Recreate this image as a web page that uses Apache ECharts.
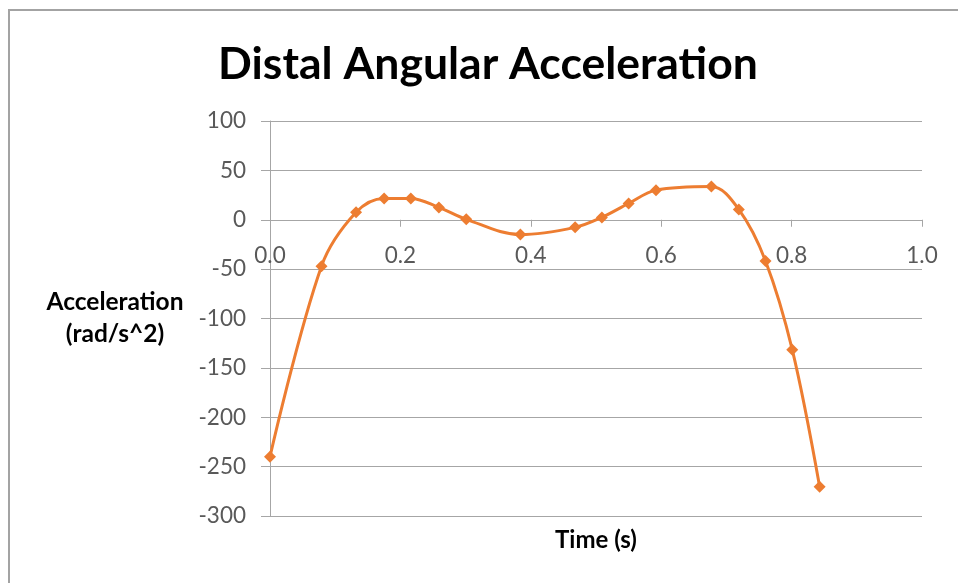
<!DOCTYPE html>
<html>
<head>
<meta charset="utf-8">
<script src="https://cdn.jsdelivr.net/npm/echarts@6/dist/echarts.min.js"></script>
<style>
html,body{margin:0;padding:0;background:#fff;}
#main{width:958px;height:583px;}
</style>
</head>
<body>
<div id="main"></div>
<script>
var titleText = "Distal Angular Acceleration";
var xAxisTitle = "Time (s)";
var yAxisTitle = "Acceleration\n(rad/s^2)";
var times = [0.000, 0.079, 0.132, 0.175, 0.216, 0.259, 0.301, 0.384, 0.468, 0.509, 0.550, 0.592, 0.677, 0.719, 0.760, 0.801, 0.843];
var accel = [-240, -47, 7.5, 21.6, 21.6, 12.5, 0.4, -15, -7.7, 2.4, 16.5, 30, 33.7, 10.5, -41.7, -131.6, -270.3];
var xMin = 0, xMax = 1, xStep = 0.2;
var yMin = -300, yMax = 100, yStep = 50;

var points = times.map(function (t, i) { return [t, accel[i]]; });
var FONT = "Lato";
var gridTop = 121, gridBottom = 67, H = 583;
var plotH = H - gridTop - gridBottom;
// x axis crosses the y axis at value 0
var zeroOffset = -plotH * (0 - yMin) / (yMax - yMin);

var chart = echarts.init(document.getElementById('main'), null, {renderer: 'canvas'});
chart.setOption({
  backgroundColor: '#ffffff',
  animation: false,
  title: {
    text: titleText,
    left: 483,
    textAlign: 'center',
    top: 37,
    textStyle: {fontFamily: FONT, fontWeight: 'bold', fontSize: 44.5, color: '#000000'}
  },
  graphic: [{
    type: 'rect',
    shape: {x: 9, y: 10, width: 1000, height: 1000},
    style: {fill: 'none', stroke: '#a3a3a3', lineWidth: 2},
    silent: true
  }],
  grid: {left: 270, right: 36, top: gridTop, bottom: gridBottom, containLabel: false, outerBoundsMode: 'none'},
  xAxis: {
    type: 'value',
    min: xMin, max: xMax, interval: xStep,
    offset: zeroOffset,
    name: xAxisTitle,
    nameLocation: 'middle',
    nameGap: 309,
    nameTextStyle: {fontFamily: FONT, fontWeight: 'bold', fontSize: 24, color: '#000000'},
    axisLine: {onZero: false, lineStyle: {color: '#a6a6a6', width: 1}},
    axisTick: {show: true, length: 7, inside: false, lineStyle: {color: '#a6a6a6'}},
    axisLabel: {
      margin: 24,
      fontFamily: FONT, fontSize: 22.5, color: '#595959',
      formatter: function (v) { return v.toFixed(1); }
    },
    splitLine: {show: false}
  },
  yAxis: {
    type: 'value',
    min: yMin, max: yMax, interval: yStep,
    name: yAxisTitle,
    nameLocation: 'middle',
    nameRotate: 0,
    nameGap: 155,
    nameTextStyle: {fontFamily: FONT, fontWeight: 'bold', fontSize: 24.5, color: '#000000', align: 'center', lineHeight: 32, padding: [13, 0, 0, 0]},
    axisLine: {show: true, lineStyle: {color: '#a6a6a6', width: 1}},
    axisTick: {show: true, length: 9, lineStyle: {color: '#a6a6a6'}},
    axisLabel: {margin: 24, fontFamily: FONT, fontSize: 22.5, color: '#595959'},
    splitLine: {show: true, lineStyle: {color: '#a6a6a6', width: 1}}
  },
  series: [{
    type: 'line',
    data: points,
    smooth: 0.35,
    symbol: 'diamond',
    symbolSize: 12,
    lineStyle: {color: '#ED7D31', width: 3},
    itemStyle: {color: '#ED7D31'},
    z: 5
  }]
});
</script>
</body>
</html>
